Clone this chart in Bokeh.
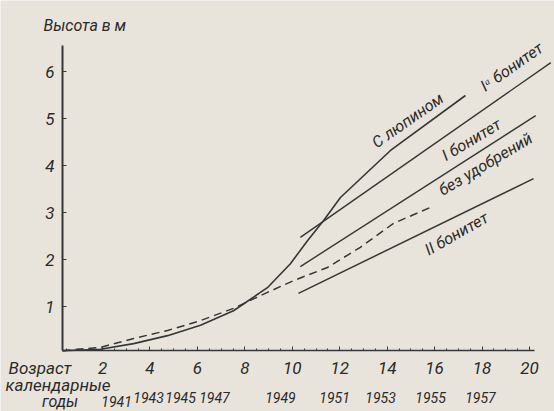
from bokeh.plotting import figure
from bokeh.models import Label, LabelSet, ColumnDataSource, FixedTicker, Range1d
from bokeh.core.properties import value
from bokeh.embed import file_html
from bokeh.resources import INLINE

# ---- data ----
age_lupin = [0.31, 1.91, 3.31, 4.74, 6.13, 7.52, 8.95, 9.92, 10.64, 11.32, 12.03, 14.14, 17.30]
h_lupin = [0.06, 0.09, 0.21, 0.38, 0.60, 0.91, 1.40, 1.91, 2.40, 2.83, 3.32, 4.32, 5.49]

age_nofert = [0.31, 1.91, 3.31, 4.74, 6.13, 7.52, 8.95, 10.05, 11.48, 12.87, 14.27, 15.83]
h_nofert = [0.06, 0.13, 0.32, 0.49, 0.70, 0.96, 1.30, 1.55, 1.83, 2.26, 2.77, 3.11]

age_b1a = [10.34, 20.90]
h_b1a = [2.47, 6.19]
age_b1 = [10.34, 20.26]
h_b1 = [1.85, 5.06]
age_b2 = [10.26, 20.17]
h_b2 = [1.28, 3.72]

x_ticks = [2, 4, 6, 8, 10, 12, 14, 16, 18, 20]
y_ticks = [1, 2, 3, 4, 5, 6]
years = ["1941", "1943", "1945", "1947", "1949", "1951", "1953", "1955", "1957"]
year_x = [2.59, 3.94, 5.29, 6.72, 9.50, 11.78, 13.72, 15.83, 17.93]
year_y = [-1.02, -0.93, -0.93, -0.93, -0.93, -0.93, -0.93, -0.93, -0.93]

# ---- style ----
BG = "#e8e4db"
INK = "#363636"
TXT = "#2a2a2a"
FONT = "Roboto"

X0, Y0 = 0.312, 0.064   # where the two axes cross

p = figure(width=554, height=411, x_range=Range1d(-2.302, 21.054), y_range=Range1d(-1.234, 7.511),
           output_backend="svg", toolbar_location=None,
           min_border_left=0, min_border_right=0, min_border_top=0, min_border_bottom=0)
p.background_fill_color = BG
p.border_fill_color = BG
p.outline_line_color = None
p.grid.visible = False

p.line(age_lupin, h_lupin, line_color=INK, line_width=1.6)
p.line(age_nofert, h_nofert, line_color=INK, line_width=1.5, line_dash="8 5")
p.line(age_b1a, h_b1a, line_color=INK, line_width=1.4)
p.line(age_b1, h_b1, line_color=INK, line_width=1.4)
p.line(age_b2, h_b2, line_color=INK, line_width=1.5)

for ax in (p.xaxis[0], p.yaxis[0]):
    ax.axis_line_color = INK
    ax.major_tick_line_color = INK
    ax.minor_tick_line_color = INK
    ax.major_label_text_font = FONT
    ax.major_label_text_font_style = "italic"
    ax.major_label_text_color = TXT
    ax.major_label_text_font_size = "17px"
    ax.major_tick_in = 4
    ax.major_tick_out = 0

p.yaxis.fixed_location = X0
p.yaxis.bounds = (Y0, 6.553)
p.yaxis.axis_line_width = 2
p.yaxis.ticker = FixedTicker(ticks=y_ticks)
p.yaxis.minor_tick_line_color = None
p.yaxis.major_label_standoff = 8

p.xaxis.fixed_location = Y0
p.xaxis.bounds = (X0, 20.2)
p.xaxis.axis_line_width = 1.5
p.xaxis.ticker = FixedTicker(ticks=x_ticks, minor_ticks=[i * 0.5 for i in range(1, 41)])
p.xaxis.minor_tick_in = 2
p.xaxis.minor_tick_out = 0
p.xaxis.major_label_standoff = 12

def lab(text, x, y, size="16px", angle=0.0, align="left"):
    p.add_layout(Label(x=x, y=y, text=text, angle=angle, text_align=align, text_baseline="middle",
                       text_font=FONT, text_font_style="italic", text_font_size=size,
                       text_color=TXT))

# axis titles
lab("Высота в м", -0.49, 6.98, size="16px")
lab("Возраст", -1.96, -0.30, size="17px")
lab("календарные", -2.09, -0.68, size="17px")
lab("годы", -0.55, -1.02, size="16px")

# curve labels
lab("С люпином", 14.86, 4.96, angle=0.61, align="center")
lab("Iᵃ бонитет", 19.25, 6.10, angle=0.61, align="center")
lab("I бонитет", 17.55, 4.55, angle=0.54, align="center")
lab("без удобрений", 18.14, 4.03, angle=0.54, align="center")
lab("II бонитет", 16.92, 2.55, angle=0.52, align="center")

# calendar years row
src = ColumnDataSource(dict(x=year_x, y=year_y, t=years))
p.add_layout(LabelSet(x="x", y="y", text="t", source=src, text_align="center", text_baseline="middle",
                      text_font=value(FONT), text_font_style="italic", text_font_size="14px",
                      text_color=TXT))

open("out.html", "w").write(file_html(p, INLINE))
